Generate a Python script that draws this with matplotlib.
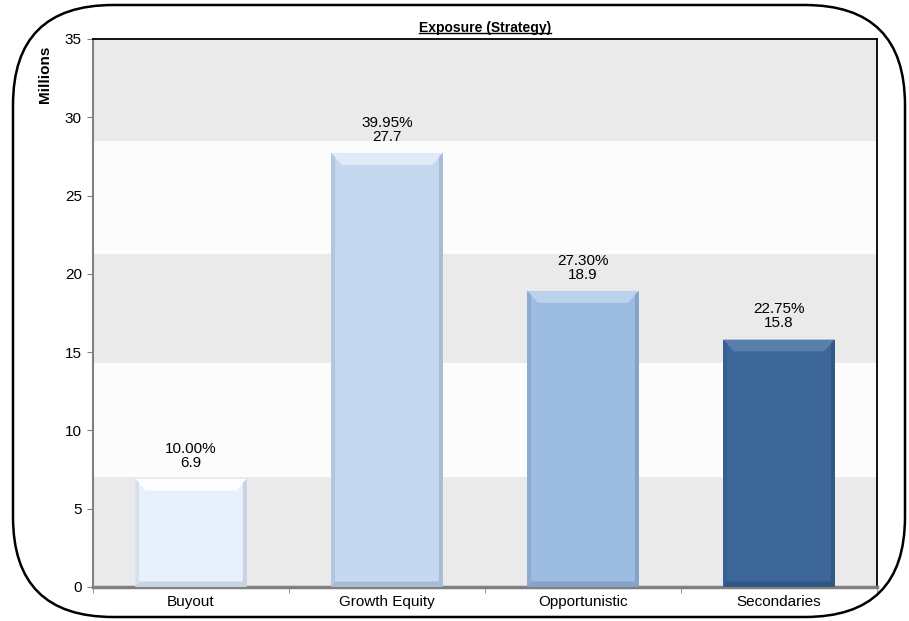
"""Exposure by strategy: bar chart with banded background and bevelled bars."""

import matplotlib.pyplot as plt
from matplotlib.lines import Line2D
from matplotlib.patches import FancyBboxPatch, Polygon

plt.rcParams['font.family'] = ['Liberation Sans', 'DejaVu Sans']

# data
strategies = ['Buyout', 'Growth Equity', 'Opportunistic', 'Secondaries']
exposure = [6.9, 27.7, 18.9, 15.8]          # millions
share_pct = [10.00, 39.95, 27.30, 22.75]
bar_colors = ['#e7f1fc', '#c4d8ef', '#9dbce2', '#3d6699']
bevel_light = ['#fbfdff', '#e0ebf8', '#bcd1ec', '#5a7eac']
bevel_side = ['#d5e0ec', '#b2c6de', '#8dabd1', '#36608f']
bevel_dark = ['#c7d3e0', '#a7bbd3', '#86a3c7', '#305683']

# background bands (alternating grey / white)
band_edges = [0, 7.0, 14.3, 21.3, 28.5, 35]
band_colors = ['#eaeaea', '#fcfcfc', '#eaeaea', '#fcfcfc', '#eaeaea']

W, H = 909, 621
fig = plt.figure(figsize=(W / 100, H / 100), dpi=100)

# pixel-space overlay for the rounded outer frame
frame_ax = fig.add_axes([0, 0, 1, 1], zorder=5)
frame_ax.set_xlim(0, W)
frame_ax.set_ylim(0, H)
frame_ax.axis('off')
frame_ax.patch.set_alpha(0)
frame_ax.add_patch(FancyBboxPatch((13, 4), 892, 612,
                                  boxstyle='round,pad=0,rounding_size=100',
                                  facecolor='none', edgecolor='black',
                                  linewidth=1.8))

ax = fig.add_axes([93 / W, 1 - 587 / H, 784 / W, 548 / H])

for lo, hi, c in zip(band_edges[:-1], band_edges[1:], band_colors):
    ax.axhspan(lo, hi, color=c, zorder=0, linewidth=0)

x = list(range(len(strategies)))
width = 0.57
bars = ax.bar(x, exposure, width=width, color=bar_colors,
              edgecolor='none', zorder=2)

# bevel around each bar: light top, slightly darker sides, dark bottom
bx = 0.055
by = 0.75
bb_h = 0.35
sw = 0.02
for i, (b, v) in enumerate(zip(bars, exposure)):
    x0 = b.get_x()
    x1 = x0 + b.get_width()
    faces = [
        ([(x0, v), (x1, v), (x1 - bx, v - by), (x0 + bx, v - by)],
         bevel_light[i]),
        ([(x0, 0), (x1, 0), (x1 - sw, bb_h), (x0 + sw, bb_h)],
         bevel_dark[i]),
        ([(x0, 0), (x0 + sw, bb_h), (x0 + sw, v - by * 0.3),
          (x0, v)], bevel_side[i]),
        ([(x1, 0), (x1 - sw, bb_h), (x1 - sw, v - by * 0.3),
          (x1, v)], bevel_dark[i]),
    ]
    for pts, col in faces:
        ax.add_patch(Polygon(pts, closed=True, facecolor=col,
                             edgecolor='none', zorder=3))
    ax.text((x0 + x1) / 2, v + 0.6,
            f'{share_pct[i]:.2f}%\n{v:.1f}', ha='center', va='bottom',
            fontsize=11, linespacing=1.0, zorder=4)

ax.set_xlim(-0.5, len(strategies) - 0.5)
ax.set_ylim(0, 35)
ax.set_yticks(range(0, 36, 5))
ax.set_xticks(x)
ax.set_xticklabels(strategies, fontsize=11)
ax.set_xticks([i + 0.5 for i in range(-1, len(strategies))], minor=True)
ax.tick_params(axis='x', which='major', length=0, pad=6)
ax.tick_params(axis='x', which='minor', length=4, direction='out',
               color='#808080')
ax.tick_params(axis='y', length=4, direction='out', color='#808080',
               labelsize=11, pad=4)

ax.spines['left'].set_color('#808080')
ax.spines['left'].set_linewidth(1.5)
ax.spines['bottom'].set_color('#808080')
ax.spines['bottom'].set_linewidth(2.5)
ax.spines['top'].set_color('black')
ax.spines['top'].set_linewidth(1.3)
ax.spines['right'].set_color('black')
ax.spines['right'].set_linewidth(1.3)

title = ax.set_title('Exposure (Strategy)', fontsize=10, fontweight='bold',
                     pad=5)
fig.text(45 / W, 1 - 74 / H, 'Millions', rotation=90, ha='center',
         va='center', fontsize=11, fontweight='bold')

# underline the title
fig.canvas.draw()
bb = title.get_window_extent().transformed(fig.transFigure.inverted())
uy = bb.y0 + 0.004
fig.add_artist(Line2D([bb.x0, bb.x1], [uy, uy], transform=fig.transFigure,
                      color='black', linewidth=1))

fig.savefig('out.png', dpi=100)
